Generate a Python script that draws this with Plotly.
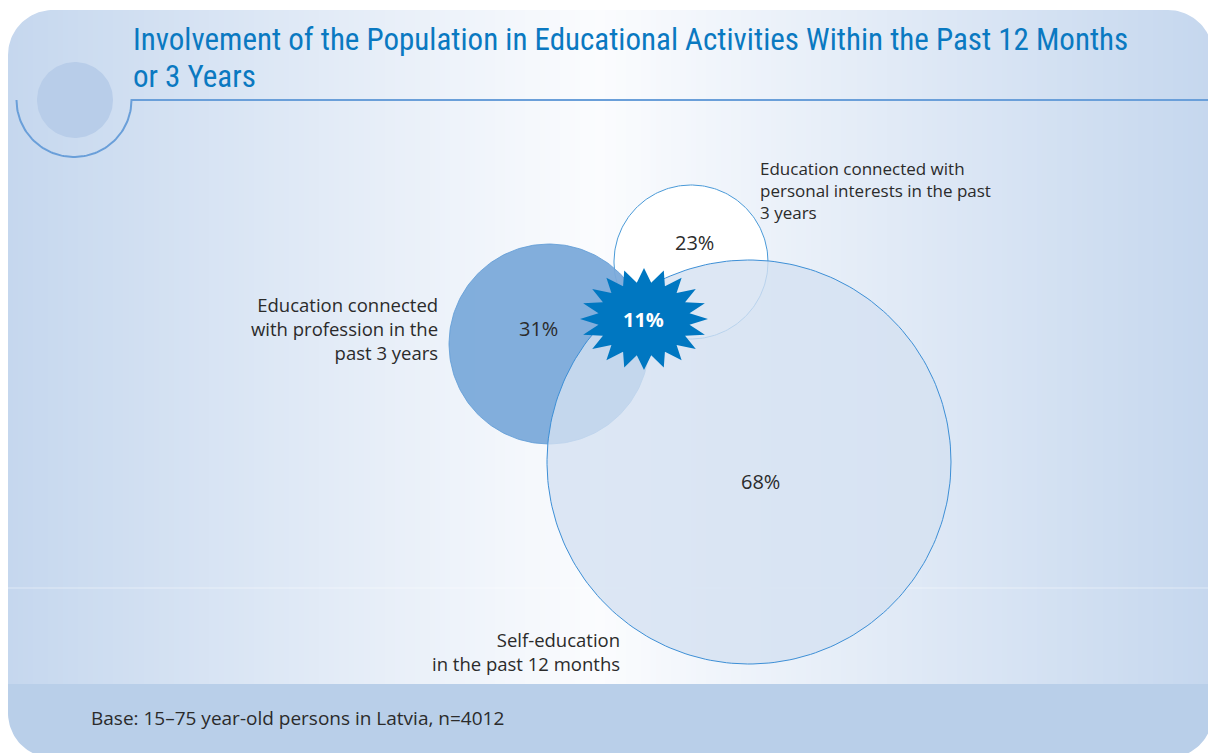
import numpy as np
import plotly.graph_objects as go

# ---------------- data ----------------
title_lines = ["Involvement of the Population in Educational Activities Within the Past 12 Months",
               "or 3 Years"]
set_names = ["Education connected<br>with profession in the<br>past 3 years",
             "Education connected with<br>personal interests in the past<br>3 years",
             "Self-education<br>in the past 12 months"]
set_values = [31, 23, 68]          # % profession, personal, self-education
overlap_value = 11                  # % in all activities
footnote = "Base: 15\u201375 year-old persons in Latvia, n=4012"

# ---------------- layout geometry (pixels) ----------------
W, H = 1208, 753
circ_prof = dict(cx=549, cy=344, r=100)
circ_pers = dict(cx=691, cy=262, r=77)
circ_self = dict(cx=749, cy=462, r=202)
star = dict(cx=644, cy=319, rx=64, ry=51, n=20, inner=0.72)
panel = dict(x0=8, x1=1213, y0=10, y1=758, rad=45, foot=684)

BODY = "Open Sans, Noto Sans, sans-serif"
TITLE_FONT = "Liberation Sans Narrow, Roboto Condensed, Arial Narrow, sans-serif"
TXT = "#2b2b2b"

fig = go.Figure()

# background gradient (heatmap across panel)
ncol = 240
xe = np.linspace(panel["x0"], panel["x1"], ncol + 1)
xc = (xe[:-1] + xe[1:]) / 2
fig.add_trace(go.Heatmap(
    x=xe, y=[panel["y0"], panel["foot"]], z=[xc.tolist()],
    colorscale=[[0, "#c5d7ee"], [0.49, "#fbfcfe"], [1, "#c5d7ee"]],
    zmin=panel["x0"], zmax=panel["x1"], showscale=False, hoverinfo="skip"))

def poly(xs, ys, fill, line_color=None, lw=0, opacity=1):
    fig.add_trace(go.Scatter(
        x=list(xs), y=list(ys), mode="lines", fill="toself", fillcolor=fill,
        line=dict(color=line_color or "rgba(0,0,0,0)", width=lw),
        hoverinfo="skip", showlegend=False, opacity=opacity))

# footer band
poly([panel["x0"], panel["x1"], panel["x1"], panel["x0"], panel["x0"]],
     [panel["foot"], panel["foot"], panel["y1"], panel["y1"], panel["foot"]], "#b9cfe9")

# faint separator line
fig.add_trace(go.Scatter(x=[panel["x0"], panel["x1"]], y=[588, 588], mode="lines",
                         line=dict(color="rgba(255,255,255,0.45)", width=1),
                         hoverinfo="skip", showlegend=False))

# rounded corner masks
R = panel["rad"]
def corner(cx, cy, a0, a1, px, py):
    t = np.linspace(np.radians(a0), np.radians(a1), 30)
    xs = np.concatenate([[px], cx + R * np.cos(t), [px]])
    ys = np.concatenate([[py], cy + R * np.sin(t), [py]])
    poly(xs, ys, "white")

x0, x1, y0, y1 = panel["x0"], panel["x1"], panel["y0"], panel["y1"]
corner(x0 + R, y0 + R, 180, 270, x0 - 1, y0 - 1)
corner(x1 - R, y0 + R, 270, 360, x1 + 1, y0 - 1)
corner(x1 - R, y1 - R, 0, 90, x1 + 1, y1 + 1)
corner(x0 + R, y1 - R, 90, 180, x0 - 1, y1 + 1)

# decoration: disc + arc + rule
t = np.linspace(0, 2 * np.pi, 120)
poly(75 + 38 * np.cos(t), 100 + 38 * np.sin(t), "#b8cde9")
ta = np.linspace(np.pi, 0, 80)
fig.add_trace(go.Scatter(x=np.concatenate([74 + 57.5 * np.cos(ta), [1208]]),
                         y=np.concatenate([100 + 57 * np.sin(ta), [100]]),
                         mode="lines", line=dict(color="#6a9fd9", width=2),
                         hoverinfo="skip", showlegend=False))

# circles
tt = np.linspace(0, 2 * np.pi, 240)
def circle(c, fill, line_color, lw):
    poly(c["cx"] + c["r"] * np.cos(tt), c["cy"] + c["r"] * np.sin(tt), fill, line_color, lw)

circle(circ_pers, "white", "#4a9ad8", 1)
circle(circ_prof, "rgba(122,169,218,0.94)", "#5d9bd6", 0.8)
circle(circ_self, "rgba(212,225,241,0.8)", "#3d8fd6", 1)

# starburst
n = star["n"]
ang = np.linspace(-np.pi / 2, 3 * np.pi / 2, 2 * n + 1)
rad = np.where(np.arange(2 * n + 1) % 2 == 0, 1.0, star["inner"])
poly(star["cx"] + star["rx"] * rad * np.cos(ang), star["cy"] + star["ry"] * rad * np.sin(ang), "#0077c1")

# annotations
ann = []
def text(x, y, s, size, color=TXT, xanchor="center", align="center", font=BODY, bold=False):
    ann.append(dict(x=x, y=y, xref="x", yref="y", text=("<b>%s</b>" % s) if bold else s,
                    showarrow=False, xanchor=xanchor, yanchor="middle", align=align,
                    font=dict(family=font, size=size, color=color)))

text(131, 39, title_lines[0], 31, "#0a79c1", "left", "left", TITLE_FONT)
text(131, 76, title_lines[1], 31, "#0a79c1", "left", "left", TITLE_FONT)

text(538, 328, f"{set_values[0]}%", 20)
text(694, 242, f"{set_values[1]}%", 20)
text(760, 481, f"{set_values[2]}%", 20)
text(643, 319, f"{overlap_value}%", 20, "white", bold=True)

text(440, 328, set_names[0], 18.5, xanchor="right", align="right")
text(758, 190, set_names[1], 17, xanchor="left", align="left")
text(622, 651, set_names[2], 18.5, xanchor="right", align="right")
text(89, 718, footnote, 19, xanchor="left", align="left")

fig.update_layout(
    width=W, height=H, autosize=False,
    margin=dict(l=0, r=0, t=0, b=0, pad=0),
    paper_bgcolor="white", plot_bgcolor="white",
    xaxis=dict(range=[0, W], visible=False, fixedrange=True),
    yaxis=dict(range=[H, 0], visible=False, fixedrange=True),
    showlegend=False, annotations=ann)

fig.write_html("out.html", config=dict(displayModeBar=False))
